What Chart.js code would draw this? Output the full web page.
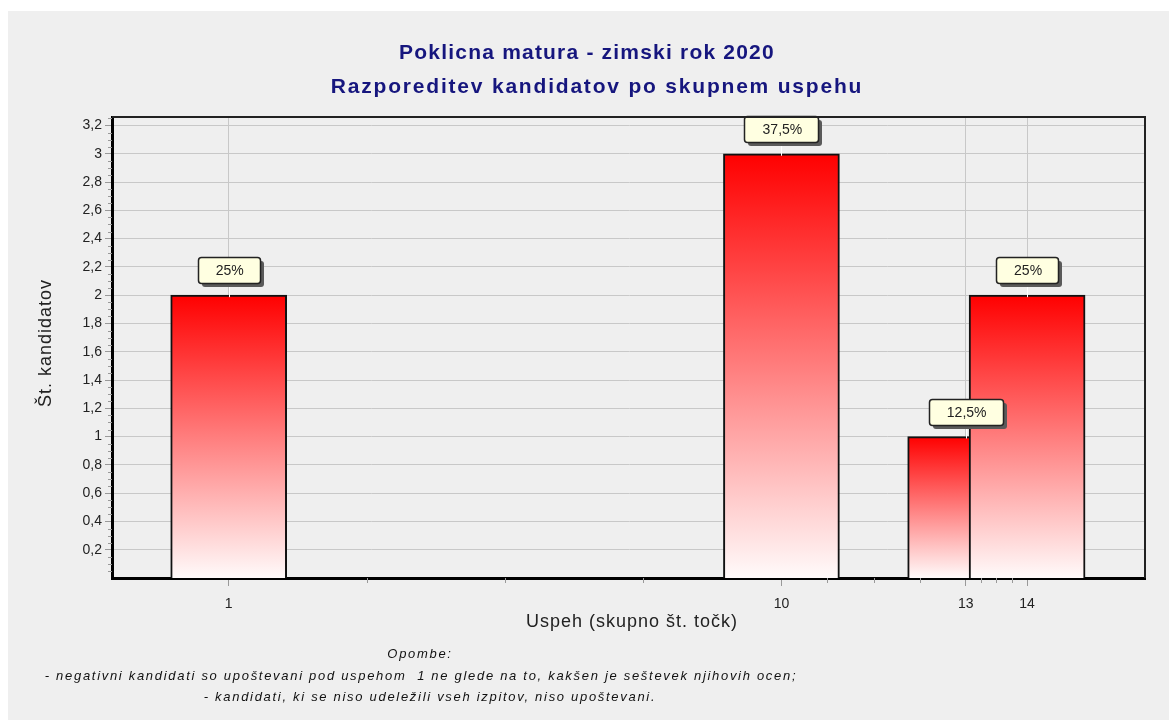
<!DOCTYPE html>
<html lang="sl">
<head>
    <meta charset="UTF-8">
    <title>Poklicna matura - zimski rok 2020</title>
    <script src="https://cdn.jsdelivr.net/npm/chart.js"></script>
    <style>
        body { margin: 0; background: #ffffff; }
        #okvir { width: 1169px; height: 720px; }
    </style>
</head>
<body>
    <div id="okvir">
        <canvas id="uspehChart" width="1169" height="720"></canvas>
    </div>

    <script>
        // podatki, odčitani s slike
        const uspeh = [1, 10, 13, 14];
        const stKandidatov = [2, 3, 1, 2];
        const delez = ['25%', '37,5%', '12,5%', '25%'];
        const xOznake = [1, 10, 13, 14];
        const yOznake = [0.2, 0.4, 0.6, 0.8, 1, 1.2, 1.4, 1.6, 1.8, 2, 2.2, 2.4, 2.6, 2.8, 3, 3.2];

        const naslov = ['Poklicna matura - zimski rok 2020', 'Razporeditev kandidatov po skupnem uspehu'];
        const naslovX = 'Uspeh (skupno št. točk)';
        const naslovY = 'Št. kandidatov';
        const opombe = [
            'Opombe:',
            '- negativni kandidati so upoštevani pod uspehom  1 ne glede na to, kakšen je seštevek njihovih ocen;',
            '- kandidati, ki se niso udeležili vseh izpitov, niso upoštevani.'
        ];

        const pisava = "'Liberation Sans', Arial, sans-serif";

        function vejica(v) {
            return String(Math.round(v * 10) / 10).replace('.', ',');
        }

        // ozadje, okvir, pomožne oznake, besedila
        var ozadjePlugin = {
            id: 'ozadje',
            beforeDraw: function (chart) {
                var ctx = chart.ctx;
                ctx.save();
                ctx.fillStyle = '#ffffff';
                ctx.fillRect(0, 0, chart.width, chart.height);
                ctx.fillStyle = '#efefef';
                ctx.fillRect(8, 11, chart.width - 8, chart.height - 11);
                ctx.restore();
            },
            afterDraw: function (chart) {
                var ctx = chart.ctx;
                var a = chart.chartArea;
                var xs = chart.scales.x;
                var ys = chart.scales.y;
                ctx.save();

                // zgornji in desni rob
                ctx.strokeStyle = '#222';
                ctx.lineWidth = 2;
                ctx.beginPath();
                ctx.moveTo(a.left, a.top);
                ctx.lineTo(a.right, a.top);
                ctx.lineTo(a.right, a.bottom);
                ctx.stroke();

                // pomožne oznake na oseh
                ctx.strokeStyle = '#999';
                ctx.lineWidth = 1;
                ctx.beginPath();
                for (var i = 0; i < xOznake.length - 1; i++) {
                    var d = (xOznake[i + 1] - xOznake[i]) / 4;
                    for (var k = 1; k < 4; k++) {
                        var px = Math.round(xs.getPixelForValue(xOznake[i] + k * d)) + 0.5;
                        ctx.moveTo(px, a.bottom);
                        ctx.lineTo(px, a.bottom + 5);
                    }
                }
                for (var v = 0.05; v < ys.max; v += 0.05) {
                    if (Math.abs(v * 5 - Math.round(v * 5)) < 0.01) continue;
                    var py = Math.round(ys.getPixelForValue(v)) + 0.5;
                    ctx.moveTo(a.left - 4, py);
                    ctx.lineTo(a.left, py);
                }
                ctx.stroke();

                // naslov
                ctx.fillStyle = '#16167e';
                ctx.font = 'bold 21px ' + pisava;
                ctx.textAlign = 'center';
                ctx.textBaseline = 'middle';
                ctx.letterSpacing = '1.2px';
                ctx.fillText(naslov[0], 587, 53);
                ctx.letterSpacing = '1.8px';
                ctx.fillText(naslov[1], 597, 87);

                // naslova osi
                ctx.fillStyle = '#222';
                ctx.font = '18px ' + pisava;
                ctx.letterSpacing = '1px';
                ctx.fillText(naslovX, 632, 622);
                ctx.save();
                ctx.translate(46, 343);
                ctx.rotate(-Math.PI / 2);
                ctx.fillText(naslovY, 0, 0);
                ctx.restore();

                // opombe
                ctx.fillStyle = '#111';
                ctx.font = 'italic 13px ' + pisava;
                ctx.letterSpacing = '1.7px';
                ctx.fillText(opombe[0], 420, 654);
                ctx.fillText(opombe[1], 421, 676);
                ctx.fillText(opombe[2], 430, 697);
                ctx.restore();
            }
        };

        // oblački z deleži nad stolpci
        var oznakePlugin = {
            id: 'oznake',
            afterDatasetsDraw: function (chart) {
                var ctx = chart.ctx;
                var meta = chart.getDatasetMeta(0);
                ctx.save();
                ctx.font = '14px ' + pisava;
                ctx.textAlign = 'center';
                ctx.textBaseline = 'middle';
                meta.data.forEach(function (el, i) {
                    var besedilo = delez[i];
                    var w = Math.round(ctx.measureText(besedilo).width + 34);
                    var h = 26;
                    var x0 = Math.round(el.x - w / 2);
                    var y0 = Math.round(el.y - 12 - h);

                    // povezava do stolpca
                    ctx.strokeStyle = '#ffffff';
                    ctx.lineWidth = 1;
                    ctx.beginPath();
                    ctx.moveTo(Math.round(el.x) + 0.5, y0 + h);
                    ctx.lineTo(Math.round(el.x) + 0.5, el.y + 2);
                    ctx.stroke();

                    // senca
                    ctx.fillStyle = '#5a5a5a';
                    ctx.beginPath();
                    ctx.roundRect(x0 + 4, y0 + 4, w, h, 3);
                    ctx.fill();

                    ctx.fillStyle = '#ffffe1';
                    ctx.strokeStyle = '#222';
                    ctx.lineWidth = 1.5;
                    ctx.beginPath();
                    ctx.roundRect(x0 + 0.5, y0 + 0.5, w, h, 3);
                    ctx.fill();
                    ctx.stroke();

                    ctx.fillStyle = '#222';
                    ctx.fillText(besedilo, el.x + 1, y0 + h / 2 + 1);
                });
                ctx.restore();
            }
        };

        function gradient(context) {
            var chart = context.chart;
            var ys = chart.scales.y;
            if (!ys || context.type !== 'data') return '#ff0000';
            var vrh = ys.getPixelForValue(context.raw.y);
            var dno = ys.getPixelForValue(0);
            if (!isFinite(vrh) || !isFinite(dno)) return '#ff0000';
            var g = chart.ctx.createLinearGradient(0, vrh, 0, dno);
            g.addColorStop(0, '#ff0000');
            g.addColorStop(1, '#fffafa');
            return g;
        }

        var ctx = document.getElementById('uspehChart').getContext('2d');
        var uspehChart = new Chart(ctx, {
            type: 'bar',
            data: {
                datasets: [{
                    label: naslovY,
                    data: uspeh.map(function (u, i) { return { x: u, y: stKandidatov[i] }; }),
                    backgroundColor: gradient,
                    borderColor: '#111',
                    borderWidth: 2,
                    barThickness: 116
                }]
            },
            options: {
                responsive: false,
                animation: false,
                layout: { padding: { left: 8, top: 117, right: 24, bottom: 0 } },
                plugins: {
                    legend: { display: false },
                    tooltip: { enabled: false },
                    title: { display: false }
                },
                scales: {
                    x: {
                        type: 'linear',
                        min: -0.9,
                        max: 15.92,
                        offset: false,
                        afterBuildTicks: function (s) {
                            s.ticks = xOznake.map(function (v) { return { value: v }; });
                        },
                        afterFit: function (s) { s.height = 142; },
                        ticks: {
                            autoSkip: false,
                            maxRotation: 0,
                            padding: 10,
                            color: '#222',
                            font: { family: pisava, size: 14 },
                            callback: function (v) { return String(v); }
                        },
                        grid: {
                            offset: false,
                            color: '#c8c8c8',
                            tickColor: '#999',
                            tickLength: 8
                        },
                        border: { color: '#000', width: 3 }
                    },
                    y: {
                        min: 0,
                        max: 3.26,
                        afterBuildTicks: function (s) {
                            s.ticks = yOznake.map(function (v) { return { value: v }; });
                        },
                        afterFit: function (s) { s.width = 104; },
                        ticks: {
                            padding: 3,
                            color: '#222',
                            font: { family: pisava, size: 14 },
                            callback: function (v) { return vejica(v); }
                        },
                        grid: {
                            color: '#c8c8c8',
                            tickColor: '#999',
                            tickLength: 7
                        },
                        border: { color: '#000', width: 3 }
                    }
                }
            },
            plugins: [ozadjePlugin, oznakePlugin]
        });
    </script>
</body>
</html>
